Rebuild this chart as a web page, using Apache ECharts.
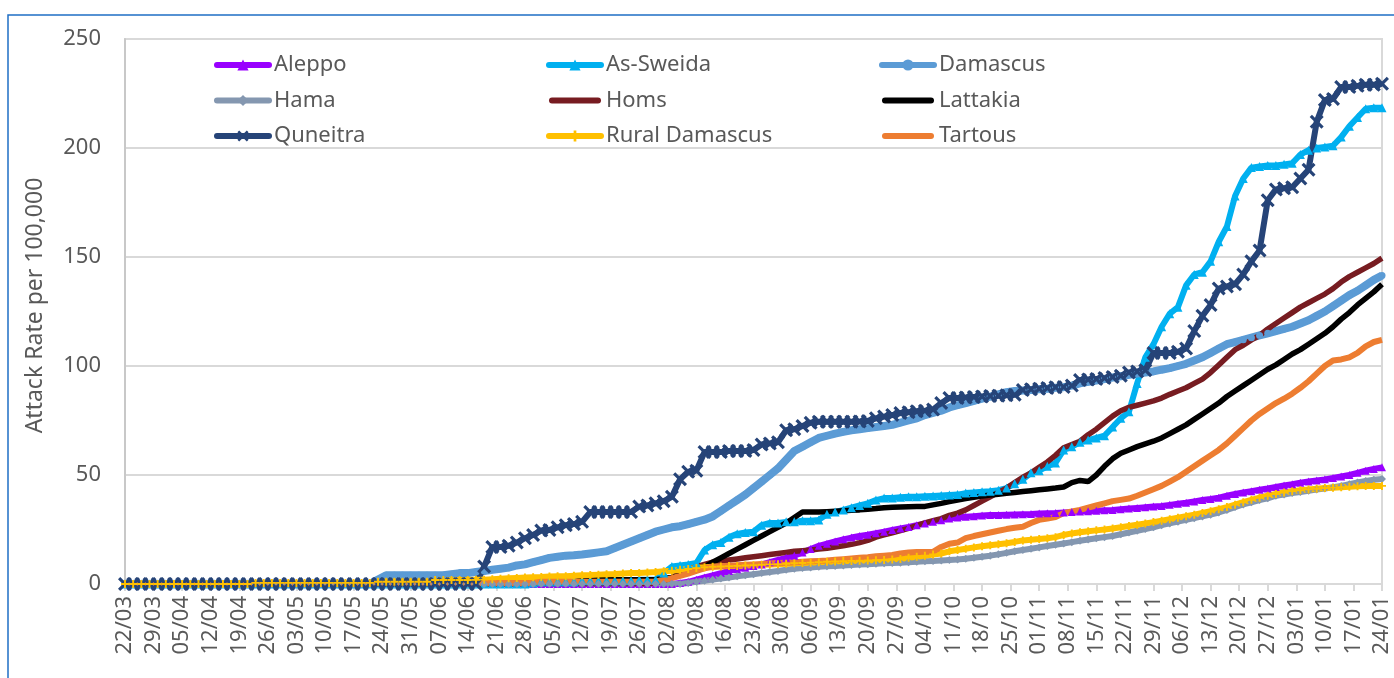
<!DOCTYPE html>
<html><head><meta charset="utf-8">
<script src="https://cdn.jsdelivr.net/npm/echarts@6/dist/echarts.min.js"></script>
<style>html,body{margin:0;padding:0;background:#fff}#c{width:1394px;height:678px}</style>
</head><body><div id="c"></div>
<script>
// Weekly tick labels (one every 7 days from 22/03)
const tickLabels = ['22/03','29/03','05/04','12/04','19/04','26/04','03/05','10/05','17/05','24/05','31/05','07/06','14/06','21/06','28/06','05/07','12/07','19/07','26/07','02/08','09/08','16/08','23/08','30/08','06/09','13/09','20/09','27/09','04/10','11/10','18/10','25/10','01/11','08/11','15/11','22/11','29/11','06/12','13/12','20/12','27/12','03/01','10/01','17/01','24/01'];
// Values read every 2nd day starting 22/03 (day 0, 2, 4 ... 308)
const dayStep = 2;
const aleppo = [
0,0,0,0,0,0,0,0,0,0, 0,0,0,0,0,0,0,0,0,0, 0,0,0,0,0,0,0,0,0,0, 0,0,0,0,0,0,0,0,0,0,
0,0,0,0,0,0,0,0,0,0, 0,0,0,0,0,0,0,0,0,0, 0,0,0,0,0,0,0,0,0.5,1,
2,3,4,5,6,6.8,7.5,8.2,9,10, 11,12,13,14.5,16,17.5,18.5,19.5,20.5,21.3,
22,22.6,23.3,24,24.8,25.5,26.2,27,27.8,28.6, 29.3,30,30.5,30.8,31.1,31.4,31.6,31.7,31.8,31.9,
32,32.1,32.3,32.5,32.6,32.8,33,33.2,33.4,33.6, 33.8,34,34.3,34.6,34.9,35.2,35.5,35.8,36.3,36.8,
37.3,37.9,38.5,39,39.6,40.5,41.3,42,42.6,43.2, 43.8,44.5,45.2,45.8,46.5,47,47.5,48,48.6,49.3,
50,51,52,52.8,53.5];
const asSweida = [
0,0,0,0,0,0,0,0,0,0, 0,0,0,0,0,0,0,0,0,0, 0,0,0,0,0,0,0,0,0,0, 0,0,0,0,0,0,0,0,0,0,
0,0,0,0,0,0,0,0,0,0, 0.5,1,1,1,1,1,1.5,1.5,1.5,1.5, 1.5,1.5,1.5,2,2,2,5,8,8.5,9,
9.6,15.6,18,19,21.5,23,23.6,24,27,28, 28,28.5,28.5,29,29,29.4,32,33,34,35,
36,37,38.5,39.4,39.5,39.8,40,40,40.2,40.4, 40.6,40.8,41,41.7,42,42.3,42.6,43,44,46,
48,51,52,54,55.5,61.5,63,65,66,67, 68,72,76,79,92,104,110,118,124,127,
137,142,143,148,157,164,178,186,191,191.5, 192,192,192.5,193,197,199,200,200.5,201,205,
210,214,218,218.5,218.5];
const damascus = [
0,0,0,0,0,0,0,0,0,0, 0,0,0,0,0,0,0,0,0,0, 0,0,0,0,0,0,0,0,0,0, 0,2,4,4,4,4,4,4,4,4,
4.5,5,5,5.5,6,6.5,7,7.5,8.5,9, 10,11,12,12.5,13,13.2,13.5,14,14.5,15, 16.5,18,19.5,21,22.5,24,25,26,26.5,27.5,
28.5,29.5,31,33.5,36,38.5,41,44,47,50, 53,57,61,63,65,67,68,69,69.8,70.5,
71,71.5,72,72.5,73,74,75,76,77.5,78.5, 79.5,81,82,83,84,85,86,87,88,88.5,
88.8,89,89.3,89.6,90,90.3,91,92,92.7,93.3, 94,94.7,95.3,96,96.5,97,97.5,98.3,99,100,
101,102.5,104,106,108,110,111,112,113,114, 115,116,117,118,119.5,121,123,125,127.5,130,
132.5,134.5,137,139.5,141.5];
const hama = [
0,0,0,0,0,0,0,0,0,0, 0,0,0,0,0,0,0,0,0,0, 0,0,0,0,0,0,0,0,0,0, 0,0,0,0,0,0,0,0,0,0,
0,0,0,0,0,0,0,0,0,0, 0,0,0,0,0,0,0,0,0,0, 0,0,0,0,0,0,0,0,0,0.5,
1,1.5,2,2.5,3,3.5,4,4.5,5,5.5, 6,6.5,7,7.3,7.6,7.9,8.1,8.3,8.5,8.7,
8.9,9.1,9.3,9.5,9.6,9.8,10,10.2,10.4,10.6, 10.8,11,11.2,11.6,12,12.5,13,13.6,14.3,15,
15.6,16.2,16.8,17.4,18,18.6,19.2,19.8,20.4,21, 21.5,22,22.8,23.6,24.4,25.2,26,27,27.8,28.6,
29.4,30.2,31,31.8,32.8,34,35.3,36.5,37.5,38.5, 39.3,40.5,41,41.7,42.2,42.8,43.3,43.8,44.4,45,
45.8,46.6,47.3,47.8,48.2];
const homs = [
0,0,0,0,0,0,0,0,0,0, 0,0,0,0,0,0,0,0,0,0, 0,0,0,0,0,0,0,0,0,0, 0,0,0,0,0,0,0,0,0,0,
0,0,0,0,0,0,0,0,0,0, 0,0,0,0,0,0,0,0,0,0, 0,0,0,0,0,0.5,1.5,3,5,6.5,
8,9,10,10.5,11,11.5,12,12.5,13,13.5, 14,14.5,15,15.3,15.6,16,16.4,17,17.5,18.2,
19,20,21.5,22.5,23.5,24.5,25.5,26.8,28,29, 30,31.5,32.5,34,36,38,40,42,44,46.5,
49,51,53.5,56,59,62.5,64,65.5,68.5,71, 74,77,79.5,81,82,83,84,85.3,87,88.5,
90,92,94,97,100.5,104,107.5,109.5,112,114, 117,119.5,122,124.5,127,129,131,133,135.5,138.5,
141,143,145,147,149.5];
const lattakia = [
0,0,0,0,0,0,0,0,0,0, 0,0,0,0,0,0,0,0,0,0, 0,0,0,0,0,0,0,0,0,0, 0,0,0,0,0,0,0,0,0,0,
0,0,0,0,0,1,1,1,1,1, 1,1,1,1,1,1,2,2,2,2, 2,2,2,2,2,2,2.5,3,4,5.5,
6.8,7.8,10,12,14,16,18,20,22,24, 26,28,30.5,33,33,33,33.2,33.4,33.6,33.8,
34,34.3,34.6,35,35.2,35.3,35.4,35.5,35.6,36.3, 37,37.8,38.5,39.2,39.8,40.3,40.8,41.2,41.6,42,
42.4,42.8,43.2,43.6,44,44.5,46.5,47.5,47,50, 54,57.5,60,61.5,63,64.3,65.5,67,69,71,
73,75.5,78,80.5,83,86,88.5,91,93.5,96, 98.5,100.5,103,105.5,107.5,110,112.5,115,118,121.5,
124.5,128,131,134,137.5];
const quneitra = [
0,0,0,0,0,0,0,0,0,0, 0,0,0,0,0,0,0,0,0,0, 0,0,0,0,0,0,0,0,0,0, 0,0,0,0,0,0,0,0,0,0,
0,0,0,0,8,17,17,17.5,19,21, 22.5,24.5,24.8,26,27,27.5,28.5,33,33,33, 33,33,33,35.5,36,37,38,40,48,51.5,
52,60.5,60.5,60.5,61,61,61,61.5,64,64.5, 65,70.5,71,72.5,74,74.4,74.4,74.4,74.4,74.4,
74.5,74.8,76,76.8,77.5,78.4,78.8,79.2,79.5,80, 83,85.3,85.3,85.5,85.8,86,86.2,86.4,86.6,86.8,
89,89.3,89.6,89.9,90.2,90.4,91,93.6,93.8,94, 94.5,95,95.5,97,97.5,98,106,106,106,106.5,
108,116,123,128,135.5,136.5,137.5,142,148,153, 176,181,181.5,182,186,190,212,222,222.5,228,
228,228.5,229,229,229.5];
const ruralDamascus = [
0,0,0,0,0,0,0,0,0,0, 0,0,0,0,0,0,0.5,0.5,0.5,0.5, 0.5,0.5,0.5,0.5,0.5,0.5,0.5,0.5,0.5,0.5, 0.5,1,1,1,1,1,1,1,1.8,1.8,
1.8,1.8,1.8,1.9,2,2.2,2.4,2.6,2.8,3, 3.1,3.2,3.4,3.5,3.6,3.8,4,4.1,4.3,4.5, 4.6,4.8,5,5.1,5.3,5.5,5.8,6.1,6.5,6.9,
7.3,7.7,7.9,8,8.2,8.3,8.5,8.6,8.8,9, 9.1,9.3,9.5,9.6,9.8,10,10.2,10.3,10.5,10.6,
10.7,10.8,10.9,11,11.2,11.5,12,12.5,13,13.5, 14,15,15.6,16.2,16.8,17.3,17.8,18.2,18.7,19.3,
20,20.3,20.6,21,21.5,22.5,23.2,23.7,24.2,24.6, 25,25.5,26,26.6,27.2,27.8,28.4,29,29.7,30.4,
31.1,31.8,32.6,33.4,34.3,35.3,36.4,37.5,38.6,39.6, 40.5,41.3,42,42.6,43,43.4,43.7,44,44.2,44.4,
44.6,44.8,45,45,45];
const tartous = [
0,0,0,0,0,0,0,0,0,0, 0,0,0,0,0,0,0,0,0,0, 0,0,0,0,0,0,0,0,0,0, 0,0,0,0,0,0,0,0,0,0.5,
0.5,0.5,0.5,0.5,0.5,0.5,0.5,0.5,0.5,0.5, 0.5,1,1,1,1,1,1,1,1,1, 1,1,1,1,1,1.2,1.8,2.7,3.7,4.8,
6,7.2,7.9,8.2,8.4,8.6,8.8,9,9.2,9.4, 9.6,9.8,10,10.2,10.4,10.6,10.8,11.1,11.4,11.7,
12,12.3,12.7,13,13.3,14,14.5,14.7,14.7,14.8, 17,18.5,19,21,22,22.8,23.6,24.4,25.2,25.8,
26.3,28,29.4,30,30.7,32.5,33.3,34,35,36, 37,38,38.6,39.2,40.5,42,43.5,45,47,49,
51.5,54,56.5,59,61.5,64.5,68,71.5,75,78, 80.5,83,85,87.3,90,93,96.5,100,102.5,103,
104,106,109,111,112];

const FONT = '"Noto Sans", "Open Sans", sans-serif';
const X_PATH = 'path://M0,1.6L1.6,0L5,3.4L8.4,0L10,1.6L6.6,5L10,8.4L8.4,10L5,6.6L1.6,10L0,8.4L3.4,5Z';
const PLUS_PATH = 'path://M3.8,0H6.2V3.8H10V6.2H6.2V10H3.8V6.2H0V3.8H3.8Z';
const BAR_ICON = 'path://M3,0H49A3,3,0,0,1,49,6H3A3,3,0,0,1,3,0Z';

const seriesDefs = [
  {name:'Aleppo', data:aleppo, color:'#9900FF', symbol:'triangle', size:8, width:6},
  {name:'As-Sweida', data:asSweida, color:'#00B0F0', symbol:'triangle', size:9, width:6},
  {name:'Damascus', data:damascus, color:'#5B9BD5', symbol:'circle', size:7, width:8},
  {name:'Hama', data:hama, color:'#8497B0', symbol:'diamond', size:8, width:6},
  {name:'Homs', data:homs, color:'#771C21', symbol:'none', size:0, width:5.5},
  {name:'Lattakia', data:lattakia, color:'#000000', symbol:'none', size:0, width:5.5},
  {name:'Quneitra', data:quneitra, color:'#264478', symbol:X_PATH, size:14, width:6},
  {name:'Rural Damascus', data:ruralDamascus, color:'#FFC000', symbol:PLUS_PATH, size:8, width:6},
  {name:'Tartous', data:tartous, color:'#ED7D31', symbol:'none', size:0, width:6}
];

const legendBase = {
  orient:'vertical', top:49, itemWidth:52, itemHeight:14, itemGap:13.5,
  selectedMode:false,
  lineStyle:{width:6, cap:'round'},
  textStyle:{fontSize:22, color:'#595959', fontFamily:FONT}
};

const chart = echarts.init(document.getElementById('c'), null, {renderer:'canvas'});
chart.setOption({
  animation:false,
  backgroundColor:'#ffffff',
  textStyle:{fontFamily:FONT},
  graphic:[{type:'rect', silent:true, z:-10,
    shape:{x:8, y:15, width:1420, height:720},
    style:{fill:'none', stroke:'#1F6FC5', lineWidth:1.5}}],
  grid:{left:125, right:12, top:39, bottom:94, show:true, borderColor:'#d9d9d9', borderWidth:2, outerBoundsMode:'none'},
  legend:[
    Object.assign({}, legendBase, {left:209, data:['Aleppo','Hama','Quneitra']}),
    Object.assign({}, legendBase, {left:541, data:['As-Sweida',{name:'Homs', icon:BAR_ICON},'Rural Damascus']}),
    Object.assign({}, legendBase, {left:874, data:['Damascus',{name:'Lattakia', icon:BAR_ICON},{name:'Tartous', icon:BAR_ICON}]})
  ],
  xAxis:{
    type:'value', min:0, max:308, interval:7,
    axisLine:{show:true, onZero:false, lineStyle:{color:'#d9d9d9', width:2}},
    axisTick:{show:true, length:7, lineStyle:{color:'#d9d9d9', width:2}},
    splitLine:{show:false},
    axisLabel:{rotate:90, fontSize:22, color:'#595959', margin:12, fontFamily:FONT,
      formatter: v => tickLabels[Math.round(v/7)] || ''}
  },
  yAxis:{
    type:'value', min:0, max:250, interval:50,
    name:'Attack Rate per 100,000', nameLocation:'middle', nameGap:78,
    nameTextStyle:{fontSize:23, color:'#595959', fontFamily:FONT, padding:[0,0,0,12]},
    axisLine:{show:true, lineStyle:{color:'#c8c8c8', width:2}},
    axisTick:{show:false},
    splitLine:{lineStyle:{color:'#d9d9d9', width:2}},
    axisLabel:{fontSize:22, color:'#595959', margin:24, fontFamily:FONT}
  },
  series: seriesDefs.map(s => ({
    name:s.name, type:'line',
    data:s.data.map((v,i) => [i*dayStep, v]),
    symbol:s.symbol, symbolSize:s.size, showSymbol:s.symbol !== 'none',
    itemStyle:{color:s.color},
    lineStyle:{color:s.color, width:s.width},
    emphasis:{disabled:true},
    silent:true
  }))
});
</script></body></html>
